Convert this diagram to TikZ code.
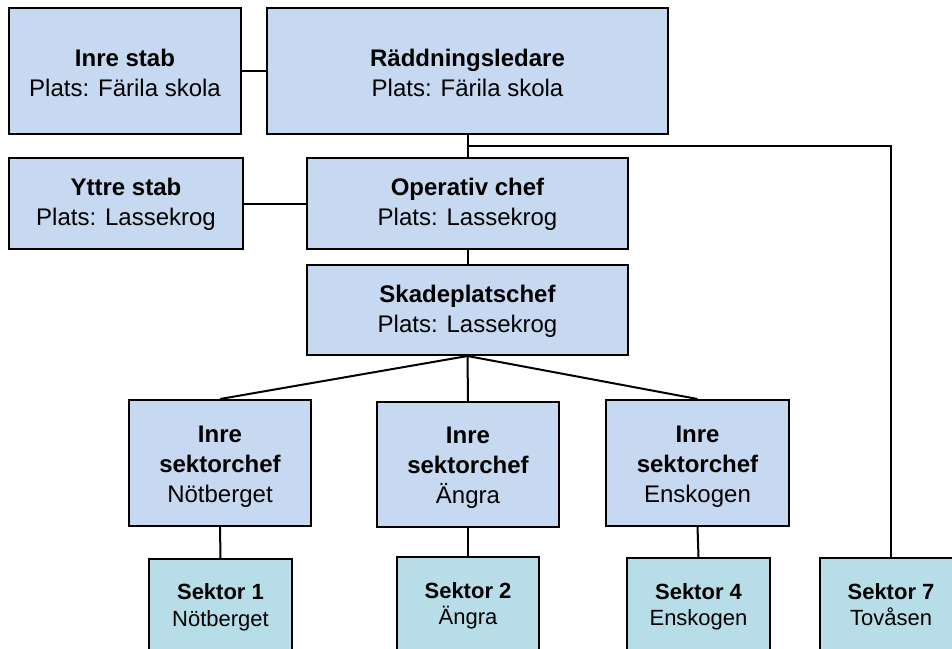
\documentclass[tikz,border=0pt]{standalone}
\usepackage{fontspec}
\setmainfont{Liberation Sans}
\usetikzlibrary{calc}
\definecolor{boxblue}{HTML}{C6D9F0}
\definecolor{boxaqua}{HTML}{B7DEE8}
\begin{document}
\begin{tikzpicture}[x=1pt,y=-1pt,
  orgbox/.style={draw=black, line width=2pt, fill=boxblue, inner sep=0pt},
  sectorbox/.style={orgbox, fill=boxaqua},
  % fixed first-line height and last-line depth, so every label sits alike
  orgtext/.style={inner sep=0pt, align=center, yshift=-1.5pt,
    font=\fontsize{24}{30}\selectfont,
    execute at begin node={\rule{0pt}{18pt}},
    execute at end node={\rule[-6pt]{0pt}{6pt}}},
  toptext/.style={orgtext, yshift=-3pt},
  chieftext/.style={orgtext, yshift=-2.7pt},
  sectortext/.style={orgtext, yshift=-1pt, font=\fontsize{22}{26.5}\selectfont},
  link/.style={draw=black, line width=2pt}]
\useasboundingbox (0,0) rectangle (952,648);
\clip (0,0) rectangle (952,648);

% command level
\node[orgbox, minimum width=232, minimum height=126] (is) at (125,71) {};
\node[toptext] (is-t) at (is.center) {\textbf{Inre stab}\\Plats: Färila skola};
\node[orgbox, minimum width=401, minimum height=126] (rl) at (467.5,71) {};
\node[toptext] (rl-t) at (rl.center) {\textbf{Räddningsledare}\\Plats: Färila skola};
\node[orgbox, minimum width=234, minimum height=91] (ys) at (126,203.5) {};
\node[orgtext] (ys-t) at (ys.center) {\textbf{Yttre stab}\\Plats: Lassekrog};
\node[orgbox, minimum width=321, minimum height=91] (oc) at (467.5,203.5) {};
\node[orgtext] (oc-t) at (oc.center) {\textbf{Operativ chef}\\Plats: Lassekrog};
\node[orgbox, minimum width=321, minimum height=90] (sc) at (467.5,310) {};
\node[orgtext] (sc-t) at (sc.center) {\textbf{Skadeplatschef}\\Plats: Lassekrog};

% inner sector chiefs
\node[orgbox, minimum width=182, minimum height=126] (ic1) at (220,463) {};
\node[chieftext] (ic1-t) at (ic1.center) {\textbf{Inre}\\\textbf{sektorchef}\\Nötberget};
\node[orgbox, minimum width=182, minimum height=125] (ic2) at (468,464.5) {};
\node[chieftext] (ic2-t) at (ic2.center) {\textbf{Inre}\\\textbf{sektorchef}\\Ängra};
\node[orgbox, minimum width=183, minimum height=126] (ic3) at (697.5,463) {};
\node[chieftext] (ic3-t) at (ic3.center) {\textbf{Inre}\\\textbf{sektorchef}\\Enskogen};

% sectors
\node[sectorbox, minimum width=143, minimum height=93] (s1) at (220.5,605.5) {};
\node[sectortext] (s1-t) at (s1.center) {\textbf{Sektor 1}\\Nötberget};
\node[sectorbox, minimum width=142, minimum height=94] (s2) at (468,604) {};
\node[sectortext] (s2-t) at (s2.center) {\textbf{Sektor 2}\\Ängra};
\node[sectorbox, minimum width=143, minimum height=94] (s4) at (698.5,605) {};
\node[sectortext] (s4-t) at (s4.center) {\textbf{Sektor 4}\\Enskogen};
\node[sectorbox, minimum width=143, minimum height=94] (s7) at (891,605) {};
\node[sectortext] (s7-t) at (s7.center) {\textbf{Sektor 7}\\Tovåsen};

% connectors
\draw[link] (is.east) -- (rl.west);
\draw[link] (ys.east) -- (oc.west);
\draw[link] (rl.south) -- (oc.north);
\coordinate (br) at ($(rl.south)!0.5!(oc.north)$);
\draw[link] (br) -| (s7.north);
\draw[link] (oc.south) -- (sc.north);
\draw[link] (sc.south) -- (ic1.north);
\draw[link] (sc.south) -- (ic2.north);
\draw[link] (sc.south) -- (ic3.north);
\draw[link] (ic1.south) -- (s1.north);
\draw[link] (ic2.south) -- (s2.north);
\draw[link] (ic3.south) -- (s4.north);
\end{tikzpicture}
\end{document}
